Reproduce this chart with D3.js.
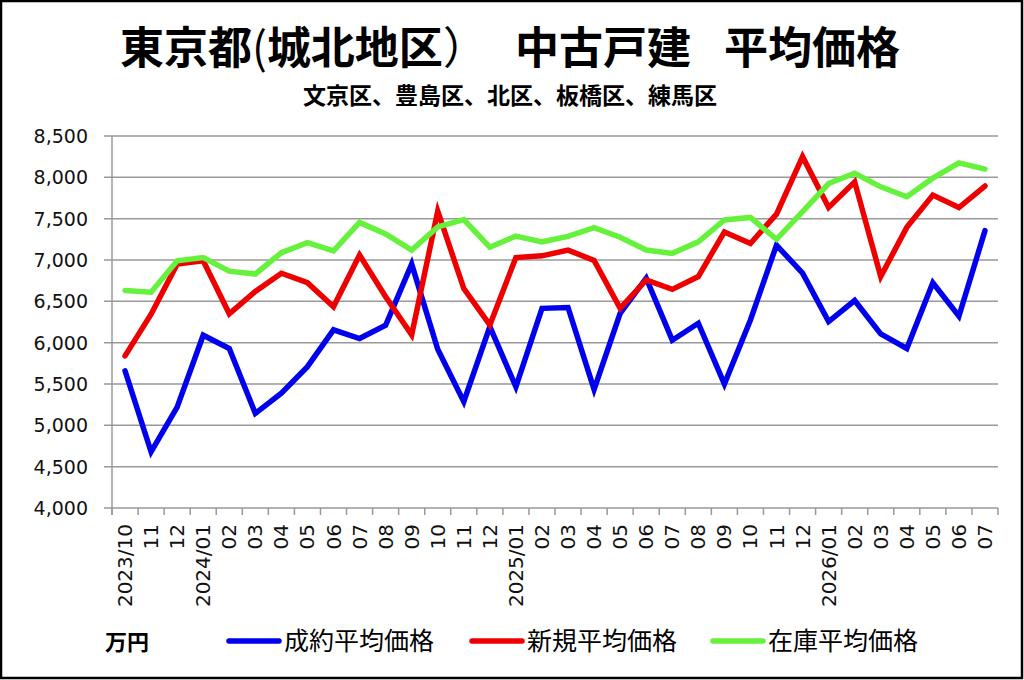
<!DOCTYPE html>
<html>
<head>
<meta charset="utf-8">
<style>
  body { margin: 0; background: #fff; }
  svg { display: block; }
  .grid line { stroke: #999; stroke-width: 1.5; }
  .ylab { font-family: "DejaVu Sans", sans-serif; font-size: 19px; fill: #111; }
  .xlab { font-family: "DejaVu Sans", sans-serif; font-size: 20px; fill: #111; }
  .jp { font-family: "Noto Sans CJK JP", sans-serif; fill: #000; }
</style>
</head>
<body>
<svg id="chart" width="1024" height="680"></svg>
<script src="https://cdn.jsdelivr.net/npm/d3@7"></script>
<script>
// months on the x axis
let months = ["2023/10","11","12",
  "2024/01","02","03","04","05","06","07","08","09","10","11","12",
  "2025/01","02","03","04","05","06","07","08","09","10","11","12",
  "2026/01","02","03","04","05","06","07"]

// 成約平均価格 (万円)
let contract = [5660, 4680, 5220, 6090, 5930, 5145, 5390, 5710, 6155, 6050, 6210, 6950,
  5920, 5285, 6195, 5465, 6415, 6425, 5435, 6355, 6780, 6030, 6235, 5500,
  6275, 7180, 6840, 6255, 6510, 6105, 5930, 6725, 6320, 7355]

// 新規平均価格
let newList = [5840, 6345, 6950, 6990, 6350, 6620, 6840, 6725, 6435, 7060, 6555, 6095,
  7590, 6655, 6215, 7030, 7050, 7120, 6995, 6415, 6760, 6645, 6800, 7340,
  7200, 7555, 8250, 7635, 7945, 6800, 7395, 7785, 7635, 7895]

// 在庫平均価格
let stock = [6630, 6610, 6990, 7030, 6865, 6830, 7090, 7210, 7110, 7455, 7315, 7120,
  7400, 7490, 7155, 7290, 7220, 7285, 7390, 7275, 7120, 7080, 7220, 7485,
  7515, 7250, 7585, 7925, 8050, 7885, 7765, 7990, 8175, 8100]

let yTicks = [4000, 4500, 5000, 5500, 6000, 6500, 7000, 7500, 8000, 8500]

let series = [
  {name: "成約平均価格", values: contract, color: "#0000ee"},
  {name: "新規平均価格", values: newList, color: "#ee0000"},
  {name: "在庫平均価格", values: stock, color: "#66f23c"}
]

let svg = d3.select("#chart")

// outer frame
svg.append("rect")
  .attr("x", 1).attr("y", 1).attr("width", 1021).attr("height", 677)
  .attr("fill", "none").attr("stroke", "#000").attr("stroke-width", 2.5)

let plotLeft = 112, plotRight = 998, plotTop = 136, plotBottom = 508

let x = d3.scaleBand().domain(d3.range(months.length)).range([plotLeft, plotRight])
let y = d3.scaleLinear().domain([4000, 8500]).range([plotBottom, plotTop])

// title, three chunks like the original spacing
let title = svg.append("text").attr("class", "jp")
  .attr("y", 64)
  .attr("font-size", 44).attr("font-weight", "bold")
let t1 = title.append("tspan").attr("x", 120)
t1.append("tspan").text("東京都")
t1.append("tspan").attr("font-weight", "normal").text("(")
t1.append("tspan").text("城北地区")
t1.append("tspan").attr("font-weight", "normal").text("）")
title.append("tspan").attr("x", 515).text("中古戸建")
title.append("tspan").attr("x", 724).text("平均価格")

svg.append("text").attr("class", "jp")
  .attr("x", 510).attr("y", 104).attr("text-anchor", "middle")
  .attr("font-size", 23).attr("font-weight", "bold")
  .text("文京区、豊島区、北区、板橋区、練馬区")

// horizontal grid + y ticks
let grid = svg.append("g").attr("class", "grid")
grid.selectAll("line.h")
  .data(yTicks)
  .enter()
  .append("line")
    .attr("x1", plotLeft - 8).attr("x2", plotRight)
    .attr("y1", d => y(d)).attr("y2", d => y(d))

// y axis line
grid.append("line")
  .attr("x1", plotLeft).attr("x2", plotLeft).attr("y1", plotTop).attr("y2", plotBottom + 7)

// x ticks at band edges
let edges = d3.range(months.length + 1).map(i => plotLeft + i * x.step())
grid.selectAll("line.xt")
  .data(edges)
  .enter()
  .append("line")
    .attr("x1", d => d).attr("x2", d => d)
    .attr("y1", plotBottom).attr("y2", plotBottom + 7)

svg.selectAll("text.ylab")
  .data(yTicks)
  .enter()
  .append("text")
    .attr("class", "ylab")
    .attr("x", 88)
    .attr("y", d => y(d))
    .attr("dy", "0.36em")
    .attr("text-anchor", "end")
    .text(d3.format(","))

svg.selectAll("text.xlab")
  .data(months)
  .enter()
  .append("text")
    .attr("class", "xlab")
    .attr("transform", (d, i) => `translate(${x(i) + x.bandwidth() / 2 + 7},${plotBottom + 16}) rotate(-90)`)
    .attr("text-anchor", "end")
    .text(d => d)

// lines
let line = d3.line()
  .x((d, i) => x(i) + x.bandwidth() / 2)
  .y(d => y(d))

svg.append("g").selectAll("path")
  .data(series)
  .enter()
  .append("path")
    .attr("d", d => line(d.values))
    .attr("fill", "none")
    .attr("stroke", d => d.color)
    .attr("stroke-width", 5.5)
    .attr("stroke-linecap", "round")

// legend
svg.append("text").attr("class", "jp")
  .attr("x", 105).attr("y", 650)
  .attr("font-size", 22).attr("font-weight", "bold")
  .text("万円")

let legendX = [229, 472, 713]
let lg = svg.append("g").selectAll("g")
  .data(series)
  .enter()
  .append("g")
    .attr("transform", (d, i) => `translate(${legendX[i]},641)`)

lg.append("line")
  .attr("x1", 0).attr("x2", 50)
  .attr("stroke", d => d.color).attr("stroke-width", 5.5).attr("stroke-linecap", "round")

lg.append("text").attr("class", "jp")
  .attr("x", 55).attr("y", 9)
  .attr("font-size", 25)
  .text(d => d.name)
</script>
</body>
</html>
